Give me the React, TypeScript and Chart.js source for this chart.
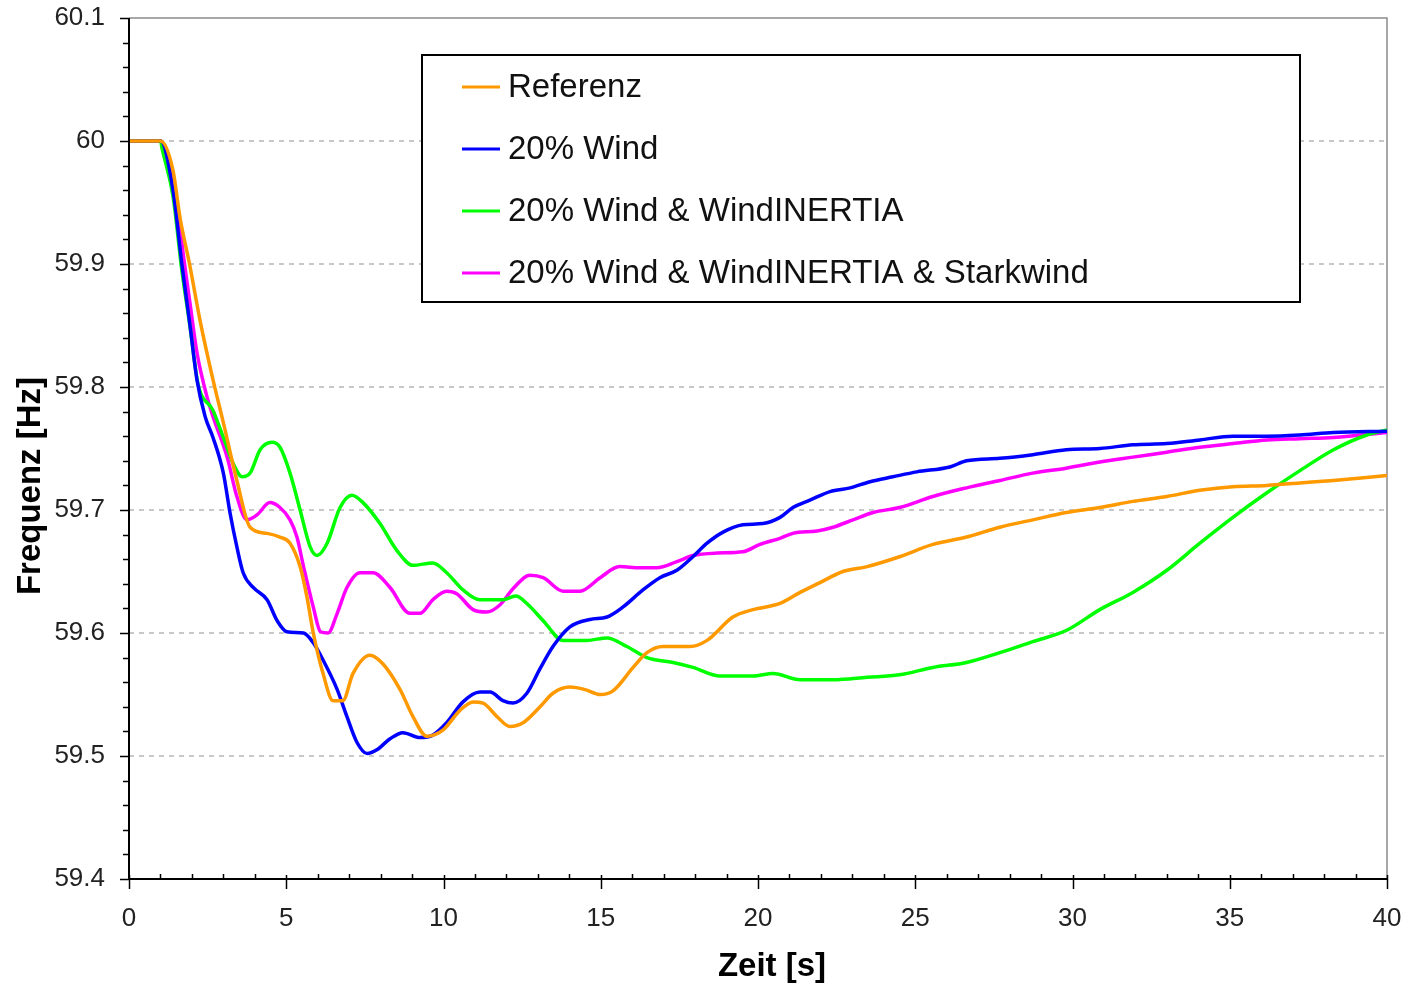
import React, { useEffect, useRef } from "react";
import { Chart, registerables } from "chart.js";

Chart.register(...registerables);

// ---- data (time in s, frequency in Hz) ----
const refT = [0, 1, 1.4, 1.62, 1.94, 2.26, 2.67, 3.0, 3.43, 3.85, 4.39, 4.8, 5.12, 5.44, 5.66, 5.86, 6.17, 6.49, 6.8, 7.12, 7.66, 8.07, 8.62, 9.03, 9.47, 9.98, 10.52, 10.94, 11.26, 11.7, 12.11, 12.53, 13.07, 13.48, 14.02, 14.5, 14.98, 15.39, 16.03, 16.47, 16.98, 17.84, 18.38, 19.2, 19.84, 20.7, 21.34, 21.97, 22.7, 23.47, 24.5, 25.56, 26.63, 27.69, 28.74, 29.8, 30.87, 31.92, 33.0, 34.05, 35.1, 36.18, 37.23, 38.3, 40];
const refV = [60, 60, 59.976, 59.938, 59.898, 59.854, 59.806, 59.771, 59.724, 59.686, 59.681, 59.678, 59.673, 59.654, 59.629, 59.6, 59.567, 59.545, 59.545, 59.567, 59.582, 59.575, 59.554, 59.532, 59.516, 59.521, 59.537, 59.544, 59.543, 59.532, 59.524, 59.527, 59.54, 59.551, 59.556, 59.554, 59.55, 59.553, 59.572, 59.584, 59.589, 59.589, 59.594, 59.613, 59.619, 59.624, 59.633, 59.641, 59.65, 59.654, 59.662, 59.672, 59.678, 59.686, 59.692, 59.698, 59.702, 59.707, 59.711, 59.716, 59.719, 59.72, 59.722, 59.724, 59.728];

const windT = [0, 1, 1.4, 1.68, 1.94, 2.16, 2.42, 2.67, 3.0, 3.21, 3.43, 3.63, 3.95, 4.39, 4.71, 5.02, 5.55, 5.86, 6.17, 6.62, 6.93, 7.25, 7.57, 7.88, 8.3, 8.71, 9.25, 9.66, 10.1, 10.62, 11.16, 11.48, 11.89, 12.21, 12.65, 13.07, 13.48, 14.02, 14.66, 15.2, 15.7, 16.34, 16.88, 17.42, 17.93, 18.38, 18.89, 19.52, 20.16, 20.7, 21.11, 21.65, 22.29, 22.93, 23.56, 24.29, 25.05, 26.1, 26.63, 27.69, 28.74, 29.8, 30.87, 31.92, 33.0, 34.05, 35.1, 36.18, 37.23, 38.3, 40];
const windV = [60, 60, 59.96, 59.9, 59.85, 59.806, 59.776, 59.759, 59.73, 59.698, 59.67, 59.649, 59.637, 59.627, 59.61, 59.601, 59.6, 59.592, 59.578, 59.554, 59.532, 59.511, 59.502, 59.505, 59.514, 59.519, 59.515, 59.517, 59.527, 59.544, 59.552, 59.552, 59.545, 59.543, 59.551, 59.571, 59.589, 59.605, 59.611, 59.613, 59.621, 59.635, 59.645, 59.651, 59.662, 59.673, 59.682, 59.688, 59.689, 59.694, 59.702, 59.708, 59.715, 59.718, 59.723, 59.727, 59.731, 59.735, 59.74, 59.742, 59.745, 59.749, 59.75, 59.753, 59.754, 59.757, 59.76, 59.76, 59.761, 59.763, 59.764];

const inertiaT = [0, 1, 1.05, 1.4, 1.68, 1.94, 2.19, 2.67, 3.0, 3.31, 3.6, 3.85, 4.17, 4.55, 4.8, 5.12, 5.44, 5.76, 5.98, 6.3, 6.71, 7.09, 7.44, 7.98, 8.52, 9.03, 9.66, 10.1, 10.62, 11.16, 11.89, 12.3, 12.65, 13.17, 13.8, 14.56, 15.2, 15.83, 16.47, 17.3, 17.93, 18.79, 19.84, 20.48, 21.34, 22.39, 23.47, 24.5, 25.56, 26.63, 27.69, 28.74, 29.8, 30.87, 31.92, 33.0, 34.05, 35.1, 36.18, 37.23, 38.3, 39.36, 40];
const inertiaV = [60, 60, 59.994, 59.955, 59.895, 59.849, 59.803, 59.781, 59.759, 59.738, 59.727, 59.73, 59.749, 59.755, 59.751, 59.73, 59.7, 59.67, 59.663, 59.673, 59.702, 59.712, 59.706, 59.689, 59.667, 59.655, 59.657, 59.649, 59.635, 59.627, 59.627, 59.63, 59.624, 59.61, 59.594, 59.594, 59.596, 59.589, 59.58, 59.576, 59.572, 59.565, 59.565, 59.567, 59.562, 59.562, 59.564, 59.566, 59.572, 59.576, 59.584, 59.593, 59.602, 59.619, 59.633, 59.651, 59.673, 59.694, 59.714, 59.732, 59.749, 59.761, 59.765];

const starkT = [0, 1, 1.05, 1.3, 1.53, 1.72, 1.94, 2.16, 2.48, 2.67, 3.12, 3.43, 3.75, 4.07, 4.48, 4.8, 5.12, 5.34, 5.55, 5.86, 6.09, 6.33, 6.62, 6.93, 7.34, 7.76, 8.3, 8.93, 9.25, 9.66, 10.1, 10.42, 10.94, 11.37, 11.8, 12.21, 12.75, 13.17, 13.8, 14.34, 14.98, 15.6, 16.25, 16.78, 17.42, 17.93, 18.7, 19.52, 20.06, 20.7, 21.11, 21.88, 22.39, 23.02, 23.66, 24.5, 25.56, 26.63, 27.69, 28.74, 29.8, 30.87, 31.92, 33.0, 34.05, 35.1, 36.18, 37.23, 38.3, 40];
const starkV = [60, 60, 59.999, 59.979, 59.95, 59.909, 59.868, 59.828, 59.792, 59.776, 59.743, 59.711, 59.692, 59.696, 59.706, 59.702, 59.692, 59.678, 59.654, 59.621, 59.601, 59.6, 59.616, 59.637, 59.649, 59.649, 59.637, 59.616, 59.616, 59.627, 59.634, 59.632, 59.619, 59.617, 59.623, 59.636, 59.647, 59.645, 59.634, 59.634, 59.645, 59.654, 59.653, 59.653, 59.658, 59.663, 59.665, 59.666, 59.672, 59.677, 59.681, 59.683, 59.686, 59.692, 59.698, 59.702, 59.711, 59.718, 59.724, 59.73, 59.734, 59.739, 59.743, 59.747, 59.751, 59.754, 59.757, 59.758, 59.759, 59.763];

const seriesLabels = ["Referenz", "20% Wind", "20% Wind & WindINERTIA", "20% Wind & WindINERTIA & Starkwind"];
const seriesColors = ["#ff9900", "#0000ff", "#00ff00", "#ff00ff"];

const xTickValues = [0, 5, 10, 15, 20, 25, 30, 35, 40];
const yTickValues = [59.4, 59.5, 59.6, 59.7, 59.8, 59.9, 60, 60.1];
const xMinorStep = 1;
const yMinorStep = 0.02;

const xTitle = "Zeit [s]";
const yTitle = "Frequenz [Hz]";

const FONT = "'Liberation Sans', Arial, sans-serif";

const toPoints = (t: number[], v: number[]) => t.map((x, i) => ({ x, y: v[i] }));

const decorPlugin = {
  id: "decor",
  beforeDatasetsDraw(chart: any) {
    const { ctx, chartArea } = chart;
    const { left, right, top, bottom } = chartArea;
    const y = chart.scales.y;
    ctx.save();
    ctx.strokeStyle = "#c8c8c8";
    ctx.lineWidth = 2;
    ctx.setLineDash([5, 5]);
    for (const v of yTickValues) {
      if (v <= y.min + 1e-6 || v >= y.max - 1e-6) continue;
      const py = Math.round(y.getPixelForValue(v));
      ctx.beginPath();
      ctx.moveTo(left, py);
      ctx.lineTo(right, py);
      ctx.stroke();
    }
    ctx.setLineDash([]);
    ctx.strokeStyle = "#8c8c8c";
    ctx.lineWidth = 1.5;
    ctx.beginPath();
    ctx.moveTo(left, top);
    ctx.lineTo(right, top);
    ctx.lineTo(right, bottom);
    ctx.stroke();
    ctx.restore();
  },
  afterDatasetsDraw(chart: any) {
    const { ctx, chartArea } = chart;
    const { left, right, top, bottom } = chartArea;
    const x = chart.scales.x;
    const y = chart.scales.y;
    ctx.save();
    // axes
    ctx.strokeStyle = "#000";
    ctx.lineWidth = 2;
    ctx.beginPath();
    ctx.moveTo(left, top);
    ctx.lineTo(left, bottom);
    ctx.lineTo(right, bottom);
    ctx.stroke();
    // y ticks
    ctx.lineWidth = 1.5;
    const nY = Math.round((y.max - y.min) / yMinorStep);
    for (let i = 0; i <= nY; i++) {
      const v = y.min + i * yMinorStep;
      const major = yTickValues.some((t) => Math.abs(t - v) < 1e-6);
      const py = Math.round(y.getPixelForValue(v)) + 0.5;
      ctx.beginPath();
      ctx.moveTo(left - (major ? 9 : 6), py);
      ctx.lineTo(left, py);
      ctx.stroke();
    }
    // x ticks
    const nX = Math.round((x.max - x.min) / xMinorStep);
    for (let i = 0; i <= nX; i++) {
      const v = x.min + i * xMinorStep;
      const major = xTickValues.some((t) => Math.abs(t - v) < 1e-6);
      const px = Math.round(x.getPixelForValue(v)) + 0.5;
      ctx.beginPath();
      if (major) {
        ctx.moveTo(px, bottom - 4);
        ctx.lineTo(px, bottom + 10);
      } else {
        ctx.moveTo(px, bottom - 5);
        ctx.lineTo(px, bottom);
      }
      ctx.stroke();
    }
    // legend
    const lx = 422, ly = 55, lw = 878, lh = 247;
    ctx.fillStyle = "#fff";
    ctx.fillRect(lx, ly, lw, lh);
    ctx.strokeStyle = "#000";
    ctx.lineWidth = 2;
    ctx.strokeRect(lx, ly, lw, lh);
    ctx.font = `33px ${FONT}`;
    ctx.textBaseline = "middle";
    ctx.textAlign = "left";
    chart.data.datasets.forEach((ds: any, i: number) => {
      const cy = 87 + i * 62;
      ctx.strokeStyle = ds.borderColor;
      ctx.lineWidth = 3;
      ctx.beginPath();
      ctx.moveTo(462, cy);
      ctx.lineTo(500, cy);
      ctx.stroke();
      ctx.fillStyle = "#111";
      ctx.fillText(ds.label, 508, cy + 1);
    });
    // axis titles
    ctx.fillStyle = "#000";
    ctx.font = `bold 33px ${FONT}`;
    ctx.textAlign = "center";
    ctx.textBaseline = "middle";
    ctx.fillText(xTitle, 772, 967);
    ctx.translate(31, 486);
    ctx.rotate(-Math.PI / 2);
    ctx.fillText(yTitle, 0, 0);
    ctx.restore();
  },
};

export default function App() {
  const canvasRef = useRef<HTMLCanvasElement | null>(null);

  useEffect(() => {
    if (!canvasRef.current) return;
    const seriesT = [refT, windT, inertiaT, starkT];
    const seriesV = [refV, windV, inertiaV, starkV];
    const chart = new Chart(canvasRef.current, {
      type: "line",
      data: {
        datasets: seriesLabels.map((label, i) => ({
          label,
          data: toPoints(seriesT[i], seriesV[i]),
          borderColor: seriesColors[i],
          backgroundColor: seriesColors[i],
          borderWidth: 3.5,
          pointRadius: 0,
          cubicInterpolationMode: "monotone" as const,
          fill: false,
        })),
      },
      options: {
        animation: false,
        responsive: true,
        maintainAspectRatio: false,
        layout: { padding: { left: 0, right: 24, top: 18, bottom: 0 } },
        plugins: { legend: { display: false }, tooltip: { enabled: false } },
        scales: {
          x: {
            type: "linear",
            min: 0,
            max: 40,
            grid: { display: false, drawTicks: false },
            border: { display: false },
            afterBuildTicks: (scale: any) => {
              scale.ticks = xTickValues.map((value) => ({ value }));
            },
            afterFit: (scale: any) => {
              scale.height = 107;
              scale.paddingLeft = 0;
              scale.paddingRight = 0;
              scale.paddingTop = 0;
              scale.paddingBottom = 0;
            },
            ticks: {
              maxRotation: 0,
              autoSkip: false,
              padding: 24,
              color: "#222",
              font: { family: FONT, size: 26 },
              callback: (v: any) => String(v),
            },
          },
          y: {
            type: "linear",
            min: 59.4,
            max: 60.1,
            grid: { display: false, drawTicks: false },
            border: { display: false },
            afterBuildTicks: (scale: any) => {
              scale.ticks = yTickValues.map((value) => ({ value }));
            },
            afterFit: (scale: any) => {
              scale.width = 129;
              scale.paddingLeft = 0;
              scale.paddingRight = 0;
              scale.paddingTop = 0;
              scale.paddingBottom = 0;
            },
            ticks: {
              autoSkip: false,
              padding: 24,
              color: "#222",
              font: { family: FONT, size: 26 },
              callback: (v: any) => String(Number(Number(v).toFixed(1))),
            },
          },
        },
      },
      plugins: [decorPlugin],
    });
    return () => chart.destroy();
  }, []);

  return (
    <div style={{ position: "fixed", left: 0, top: 0, width: 1411, height: 986, background: "#fff" }}>
      <canvas ref={canvasRef} />
    </div>
  );
}
